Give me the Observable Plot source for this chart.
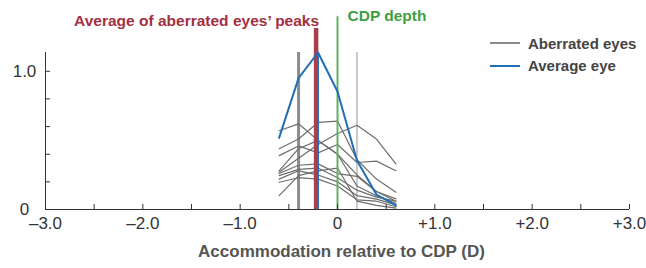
<!DOCTYPE html>
<html>
<head>
<meta charset="utf-8">
<script src="https://cdn.jsdelivr.net/npm/d3@7"></script>
<script src="https://cdn.jsdelivr.net/npm/@observablehq/plot@0.6"></script>
<style>
  html, body { margin: 0; padding: 0; background: #fff; }
  #wrap { position: relative; width: 646px; height: 268px; font-family: "Liberation Sans", Arial, sans-serif; }
  #legend { position: absolute; left: 490px; top: 32px; font-weight: bold; font-size: 15px; color: #444; }
  .row { display: flex; align-items: center; height: 22.5px; }
  .sw { width: 30px; height: 2px; margin-right: 8px; }
</style>
</head>
<body>
<div id="wrap"><div id="legend"></div></div>
<script>
// Accommodation offsets (D) at which focus was sampled
const offsets = [-0.6, -0.4, -0.2, 0, 0.2, 0.4, 0.6];
// Individual aberrated eyes (normalized response)
const eye1  = [0.57, 0.62, 0.50, 0.40, 0.25, 0.13, 0.06];
const eye2  = [0.44, 0.51, 0.63, 0.64, 0.36, 0.22, 0.125];
const eye3  = [0.27, 0.37, 0.47, 0.55, 0.61, 0.51, 0.33];
const eye4  = [0.39, 0.46, 0.41, 0.47, 0.34, 0.35, 0.28];
const eye5  = [0.28, 0.44, 0.50, 0.40, 0.17, 0.10, 0.045];
const eye6  = [0.26, 0.32, 0.33, 0.26, 0.24, 0.13, 0.077];
const eye7  = [0.245, 0.29, 0.30, 0.23, 0.14, 0.09, 0.06];
const eye8  = [0.22, 0.28, 0.25, 0.20, 0.10, 0.075, 0.033];
const eye9  = [0.197, 0.23, 0.22, 0.17, 0.07, 0.06, 0.02];
const eye10 = [0.10, 0.245, 0.28, 0.30, 0.06, 0.03, 0.01];
const aberratedEyes = [eye1, eye2, eye3, eye4, eye5, eye6, eye7, eye8, eye9, eye10];
// Average eye
const averageEye = [0.518, 0.951, 1.136, 0.854, 0.354, 0.108, 0.029];
// Reference positions (D) and heights
const peakRangeDark = -0.4;   // dark grey marker
const peakRangeLight = 0.2;   // light grey marker
const avgAberratedPeak = -0.22;
const avgEyePeak = -0.2;
const cdpDepth = 0;
const yTop = 1.136;
const redTop = 1.31;
const greenTop = 1.395;
// Axis ticks
const xTicks = [-3, -2.5, -2, -1.5, -1, -0.5, 0, 0.5, 1, 1.5, 2, 2.5, 3];
const xLabels = [-3, -2, -1, 0, 1, 2, 3];
const xLabelText = ["\u20133.0", "\u20132.0", "\u20131.0", "0", "+1.0", "+2.0", "+3.0"];
const yTicks = [0, 0.2, 0.4, 0.6, 0.8, 1.0];
const yLabels = [0, 1.0];
const yLabelText = ["0", "1.0"];

const rows = aberratedEyes.flatMap((arr, i) => arr.map((v, j) => ({eye: i, x: offsets[j], v})));
const avgRows = averageEye.map((v, j) => ({x: offsets[j], v}));

const font = "Liberation Sans, Arial, sans-serif";
const chart = Plot.plot({
  width: 646, height: 268,
  marginLeft: 45, marginRight: 17, marginTop: 52, marginBottom: 59,
  style: {fontFamily: font, background: "transparent", overflow: "visible"},
  x: {domain: [-3, 3]},
  y: {domain: [0, yTop]},
  marks: [
    Plot.ruleX([peakRangeDark], {y1: 0, y2: yTop, stroke: "#8c8c8c", strokeWidth: 3}),
    Plot.ruleX([peakRangeLight], {y1: 0, y2: yTop, stroke: "#bdbdbd", strokeWidth: 1.6}),
    Plot.line(rows, {x: "x", y: "v", z: "eye", stroke: "#6e6e6e", strokeWidth: 1.2}),
    Plot.ruleX([cdpDepth], {y1: 0, y2: greenTop, stroke: "#63b063", strokeWidth: 2}),
    Plot.ruleX([avgAberratedPeak], {y1: 0, y2: redTop, stroke: "#a8404f", strokeWidth: 4.5}),
    Plot.ruleX([avgEyePeak], {y1: 0, y2: yTop, stroke: "#1f6fb6", strokeWidth: 1.8}),
    Plot.line(avgRows, {x: "x", y: "v", stroke: "#1f6fb6", strokeWidth: 2}),
    Plot.ruleX([-3], {stroke: "#333", strokeWidth: 1}),
    Plot.ruleY([0], {stroke: "#333", strokeWidth: 1}),
    Plot.axisX(xTicks, {tickSize: 5, dy: -5, tickFormat: () => "", label: null, stroke: "#333"}),
    Plot.axisX(xLabels, {tickSize: 0, tickPadding: 7, tickFormat: d => xLabelText[xLabels.indexOf(d)], label: null, fontSize: 17, fill: "#333"}),
    Plot.axisY(yTicks, {tickSize: 5, dx: 5, tickFormat: () => "", label: null, stroke: "#333"}),
    Plot.axisY(yLabels, {tickSize: 0, tickPadding: 21, textAnchor: "middle", tickFormat: d => yLabelText[yLabels.indexOf(d)], label: null, fontSize: 17, fill: "#333"}),
    Plot.text(["Accommodation relative to CDP (D)"], {frameAnchor: "bottom", dy: 42, dx: 4, lineAnchor: "middle", fontSize: 17, fontWeight: "bold", fill: "#555"}),
    Plot.text(["Average of aberrated eyes\u2019 peaks"], {x: avgAberratedPeak, y: greenTop, dy: 4, dx: 3, textAnchor: "end", lineAnchor: "middle", fontSize: 15.5, fontWeight: "bold", fill: "#a3303f"}),
    Plot.text(["CDP depth"], {x: cdpDepth, y: greenTop, dx: 10, dy: -1, textAnchor: "start", lineAnchor: "middle", fontSize: 15.5, fontWeight: "bold", fill: "#3f9e3f"})
  ]
});
document.getElementById("wrap").prepend(chart);
const legendItems = [["Aberrated eyes", "#8a8a8a"], ["Average eye", "#1f6fb6"]];
const lg = document.getElementById("legend");
for (const [name, color] of legendItems) {
  const r = document.createElement("div"); r.className = "row";
  const s = document.createElement("div"); s.className = "sw"; s.style.background = color;
  const t = document.createElement("span"); t.textContent = name;
  r.append(s, t); lg.append(r);
}
</script>
</body>
</html>
